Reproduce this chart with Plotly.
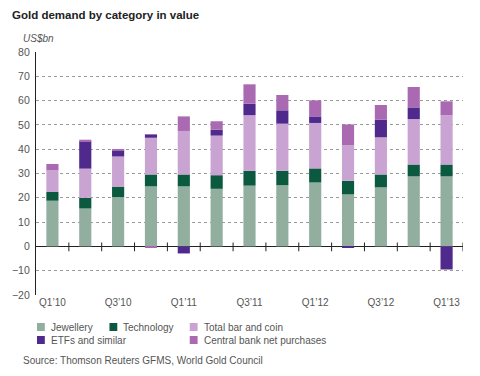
import plotly.graph_objects as go

quarters = ["Q1’10", "Q2’10", "Q3’10", "Q4’10", "Q1’11", "Q2’11", "Q3’11",
            "Q4’11", "Q1’12", "Q2’12", "Q3’12", "Q4’12", "Q1’13"]
jewellery = [18.8, 15.6, 20.3, 24.7, 24.7, 23.7, 25.0, 25.2, 26.3, 21.4, 24.3, 28.8, 28.8]
technology = [3.6, 4.4, 4.3, 4.9, 4.9, 5.6, 6.1, 5.9, 5.8, 5.6, 5.3, 4.9, 4.9]
bar_coin = [8.9, 12.0, 12.4, 15.1, 17.9, 16.3, 22.9, 19.4, 18.7, 14.6, 15.3, 18.7, 20.3]
etfs = [0.0, 11.2, 2.4, 1.4, -2.9, 2.4, 4.7, 5.5, 2.7, -0.5, 7.2, 4.8, -9.5]
central_bank = [2.6, 0.7, 0.5, -0.6, 6.0, 3.5, 8.0, 6.3, 6.6, 8.6, 6.1, 8.4, 5.7]
y_ticks = [80, 70, 60, 50, 40, 30, 20, 10, 0, -10, -20]

series = [
    ("Jewellery", jewellery, "#92ae9f"),
    ("Technology", technology, "#0b5a40"),
    ("Total bar and coin", bar_coin, "#c9a3d1"),
    ("ETFs and similar", etfs, "#4f2a8c"),
    ("Central bank net purchases", central_bank, "#a96ab2"),
]

x = list(range(len(quarters)))
fig = go.Figure()
for name, vals, col in series:
    fig.add_trace(go.Bar(x=x, y=vals, name=name, marker=dict(color=col, line=dict(width=0)),
                         width=0.37, showlegend=False))

fig.update_layout(
    barmode="relative",
    width=480, height=376,
    margin=dict(l=27, r=17, t=52, b=81),
    plot_bgcolor="white", paper_bgcolor="white",
    font=dict(family="Liberation Sans, Arial, sans-serif", color="#555555", size=10),
)
fig.update_xaxes(
    range=[-0.5, 12.5],
    tickmode="array",
    tickvals=x[::2],
    ticktext=quarters[::2],
    showgrid=False, showline=False, zeroline=False,
    ticks="", tickfont=dict(size=10, color="#555555"),
)
fig.update_yaxes(
    range=[-20, 80],
    tickmode="array",
    tickvals=y_ticks,
    showgrid=True, gridcolor="#9a9a9a", griddash="dot", gridwidth=1,
    zeroline=True, zerolinecolor="#222222", zerolinewidth=1.2,
    showline=True, linecolor="#222222", linewidth=1.2,
    ticks="", ticklabelstandoff=3,
    tickfont=dict(size=10.5, color="#555555"),
)

# small tick marks on the zero line between categories
for i in range(len(quarters)):
    fig.add_shape(type="line", xref="x", yref="y", x0=i + 0.5, x1=i + 0.5, y0=1.6, y1=-2.0,
                  line=dict(color="#222222", width=1))

# title, unit, source
fig.add_annotation(text="<b>Gold demand by category in value</b>", xref="paper", yref="paper",
                   x=-27 / 436, y=1 + 37 / 243, xanchor="left", yanchor="middle", showarrow=False,
                   font=dict(size=11.5, color="#222222"))
fig.add_annotation(text="<i>US$bn</i>", xref="paper", yref="paper",
                   x=-15 / 436, y=1 + 14 / 243, xanchor="left", yanchor="middle", showarrow=False,
                   font=dict(size=10, color="#555555"))
fig.add_annotation(text="Source: Thomson Reuters GFMS, World Gold Council", xref="paper", yref="paper",
                   x=-15 / 436, y=-(361 - 295) / 243, xanchor="left", yanchor="middle", showarrow=False,
                   font=dict(size=10, color="#555555"))

# manual legend
legend_pos = [(28, 327), (102, 327), (184, 327), (28, 340), (184, 340)]
for (name, vals, col), (lx, ly) in zip(series, legend_pos):
    px0 = (lx - 27) / 436
    py = (295 - ly) / 243
    fig.add_shape(type="rect", xref="paper", yref="paper",
                  x0=px0, x1=px0 + 8 / 436, y0=py - 4 / 243, y1=py + 4 / 243,
                  fillcolor=col, line=dict(width=0))
    fig.add_annotation(text=name, xref="paper", yref="paper", x=px0 + 12 / 436, y=py,
                       xanchor="left", yanchor="middle", showarrow=False,
                       font=dict(size=10, color="#555555"))

fig.write_html("out.html", config={"displayModeBar": False},
               post_script="document.body.style.margin='0';document.body.style.overflow='hidden';")
